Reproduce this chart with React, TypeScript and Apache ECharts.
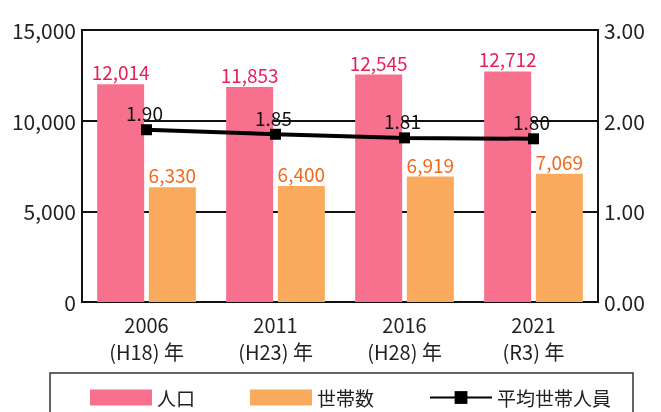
import React, { useEffect, useRef } from "react";
import * as echarts from "echarts";

const categories = ["2006\n(H18) 年", "2011\n(H23) 年", "2016\n(H28) 年", "2021\n(R3) 年"];
const population = [12014, 11853, 12545, 12712];
const households = [6330, 6400, 6919, 7069];
const avgMembers = [1.9, 1.85, 1.81, 1.8];

const FONT = "'Noto Sans CJK JP', 'Noto Sans', sans-serif";

export default function App() {
  const ref = useRef<HTMLDivElement>(null);
  useEffect(() => {
    if (!ref.current) return;
    const chart = echarts.init(ref.current, undefined, { renderer: "svg" });
    chart.setOption({
      animation: false,
      textStyle: { fontFamily: FONT },
      grid: {
        left: 82,
        right: 63,
        top: 30,
        bottom: 110,
        show: true,
        borderColor: "#111",
        borderWidth: 2,
      },
      legend: {
        left: 85,
        top: 383,
        itemWidth: 62,
        itemHeight: 16,
        itemGap: 55,
        textStyle: { fontSize: 19, color: "#222", fontFamily: FONT },
        data: [
          { name: "人口", icon: "rect" },
          { name: "世帯数", icon: "rect" },
          { name: "平均世帯人員" },
        ],
      },
      graphic: [
        {
          type: "rect",
          shape: { x: 50, y: 373, width: 583, height: 60 },
          style: { fill: "none", stroke: "#333", lineWidth: 1.5 },
          silent: true,
        },
      ],
      xAxis: {
        type: "category",
        data: categories,
        axisLine: { lineStyle: { color: "#111", width: 2 } },
        axisTick: { inside: true, length: 6, lineStyle: { color: "#111", width: 2 } },
        axisLabel: {
          color: "#222",
          fontSize: 20,
          lineHeight: 27,
          margin: 9,
          fontFamily: FONT,
        },
      },
      yAxis: [
        {
          type: "value",
          min: 0,
          max: 15000,
          interval: 5000,
          axisLine: { show: true, lineStyle: { color: "#111", width: 2 } },
          axisTick: { show: false },
          splitLine: { show: true, lineStyle: { color: "#111", width: 2 } },
          axisLabel: {
            color: "#222",
            fontSize: 21,
            margin: 6,
            fontFamily: FONT,
            formatter: (v: number) => v.toLocaleString("en-US"),
          },
        },
        {
          type: "value",
          min: 0,
          max: 3,
          interval: 1,
          position: "right",
          axisLine: { show: true, lineStyle: { color: "#111", width: 2 } },
          axisTick: { show: false },
          splitLine: { show: false },
          axisLabel: {
            color: "#222",
            fontSize: 21,
            margin: 6,
            fontFamily: FONT,
            formatter: (v: number) => v.toFixed(2),
          },
        },
      ],
      series: [
        {
          name: "人口",
          type: "bar",
          data: population,
          barWidth: 47,
          barGap: "10%",
          itemStyle: { color: "#f7718f" },
          label: {
            show: true,
            position: "top",
            distance: 3,
            color: "#e8205a",
            fontSize: 19,
            fontFamily: FONT,
            formatter: (p: any) => Number(p.value).toLocaleString("en-US"),
          },
        },
        {
          name: "世帯数",
          type: "bar",
          data: households,
          barWidth: 47,
          barGap: "10%",
          itemStyle: { color: "#f9aa5c" },
          label: {
            show: true,
            position: "top",
            distance: 3,
            color: "#f06a1e",
            fontSize: 19,
            fontFamily: FONT,
            formatter: (p: any) => Number(p.value).toLocaleString("en-US"),
          },
        },
        {
          name: "平均世帯人員",
          type: "line",
          yAxisIndex: 1,
          data: avgMembers,
          symbol: "rect",
          symbolSize: 11,
          itemStyle: { color: "#000" },
          lineStyle: { color: "#000", width: 4 },
          label: {
            show: true,
            position: "top",
            distance: 2,
            offset: [-2, 0],
            color: "#111",
            fontSize: 19,
            fontFamily: FONT,
            formatter: (p: any) => Number(p.value).toFixed(2),
          },
          z: 5,
        },
      ],
    });
    return () => chart.dispose();
  }, []);
  return (
    <div
      ref={ref}
      style={{ position: "fixed", left: 0, top: 0, width: 661, height: 412 }}
    />
  );
}
